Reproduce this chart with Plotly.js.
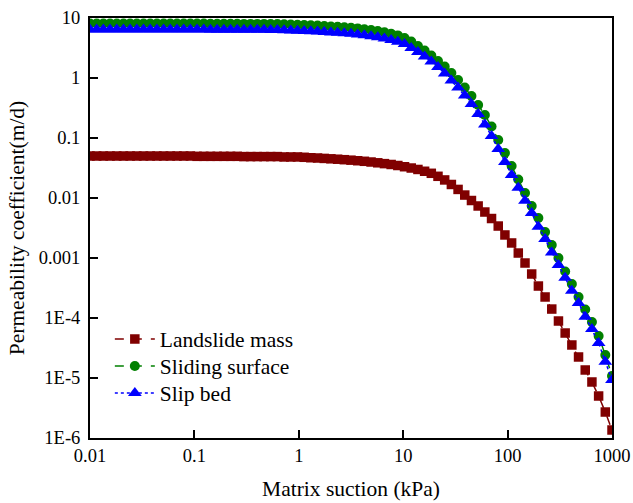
<!DOCTYPE html>
<html>
<head>
<meta charset="utf-8">
<script src="https://cdn.plot.ly/plotly-3.0.1.min.js"></script>
<style>html,body{margin:0;padding:0;background:#fff;}#chart{width:633px;height:503px;}</style>
</head>
<body>
<div id="chart"></div>
<script>
// Matrix suction (kPa)
const suction = [0.01,0.01159,0.01343,0.01557,0.01805,0.02092,0.02424,0.02810,0.03257,0.03775,
0.04375,0.05071,0.05878,0.06813,0.07897,0.09153,0.1061,0.1230,0.1425,0.1652,
0.1915,0.2219,0.2572,0.2981,0.3455,0.4005,0.4642,0.5380,0.6236,0.7228,
0.8377,0.9710,1.125,1.304,1.512,1.752,2.031,2.354,2.729,3.162,
3.665,4.248,4.924,5.707,6.615,7.667,8.886,10.30,11.94,13.84,
16.04,18.59,21.54,24.97,28.94,33.54,38.88,45.06,52.23,60.54,
70.17,81.33,94.27,109.3,126.6,146.8,170.1,197.2,228.6,264.9,
307.0,355.9,412.5,478.1,554.1,642.2,744.4,862.8,1000];

// Permeability coefficient (m/d)
const landslideMass = [0.0501,0.0501,0.0501,0.0501,0.0501,0.0501,0.0501,0.0501,0.0501,0.0501,
0.0501,0.0501,0.0501,0.0501,0.0501,0.0501,0.0495,0.0495,0.0495,0.0495,
0.0495,0.0495,0.0495,0.0490,0.0490,0.0490,0.0490,0.0490,0.0490,0.0483,
0.0483,0.0483,0.0477,0.0469,0.0464,0.0457,0.0450,0.0443,0.0435,0.0427,
0.0418,0.0409,0.0398,0.0386,0.0374,0.0362,0.0348,0.0332,0.0316,0.0299,
0.0279,0.0258,0.0230,0.0200,0.0168,0.0139,0.0112,0.00908,0.00736,0.00584,
0.00455,0.00341,0.00242,0.00178,0.00121,8.25e-4,5.41e-4,3.41e-4,2.24e-4,1.41e-4,
8.91e-5,5.62e-5,3.55e-5,2.24e-5,1.36e-5,8.58e-6,5.01e-6,2.71e-6,1.36e-6];

const slidingSurface = [8.10,8.10,8.10,8.10,8.10,8.10,8.10,8.10,8.10,8.10,
8.10,8.10,8.10,8.10,8.10,8.10,8.10,8.10,8.04,8.04,
8.04,8.04,8.04,7.98,7.98,7.98,7.98,7.91,7.91,7.85,
7.79,7.73,7.64,7.56,7.47,7.36,7.24,7.13,7.03,6.89,
6.71,6.51,6.29,6.05,5.78,5.47,5.13,4.64,4.06,3.41,
2.87,2.37,1.92,1.55,1.21,0.926,0.695,0.501,0.355,0.242,
0.155,0.0926,0.0562,0.0341,0.0203,0.0121,0.00736,0.00464,0.00271,0.00165,
0.001,5.96e-4,3.69e-4,2.24e-4,1.39e-4,8.58e-5,5.01e-5,2.42e-5,1.08e-5];

const slipBed = [6.43,6.43,6.43,6.43,6.43,6.43,6.43,6.43,6.43,6.43,
6.43,6.43,6.43,6.43,6.43,6.43,6.43,6.43,6.38,6.38,
6.38,6.38,6.38,6.34,6.34,6.34,6.34,6.29,6.29,6.24,
6.19,6.14,6.07,6.00,5.93,5.84,5.75,5.67,5.58,5.45,
5.31,5.15,4.97,4.77,4.55,4.30,4.01,3.69,3.16,2.71,
2.28,1.88,1.53,1.19,0.909,0.695,0.511,0.369,0.251,0.168,
0.108,0.0656,0.0398,0.0242,0.0148,0.00902,0.00562,0.00332,0.00207,0.00123,
7.64e-4,4.69e-4,2.85e-4,1.78e-4,1.05e-4,6.56e-5,3.83e-5,1.87e-5,9.26e-6];

const seriesNames = ['Landslide mass','Sliding surface','Slip bed'];
const xTickVals = [0.01,0.1,1,10,100,1000];
const xTickText = ['0.01','0.1','1','10','100','1000'];
const yTickVals = [1e-6,1e-5,1e-4,1e-3,1e-2,1e-1,1,10];
const yTickText = ['1E-6','1E-5','1E-4','0.001','0.01','0.1','1','10'];

const FONT = '"Liberation Serif", "Times New Roman", serif';

const traces = [
  {x: suction, y: landslideMass, name: seriesNames[0], mode: 'lines+markers', type: 'scatter',
   legend: 'legend',
   line: {color: '#800000', width: 1.5, dash: 'dash'},
   marker: {symbol: 'square', size: 9.5, color: '#800000'}},
  {x: suction, y: slidingSurface, name: seriesNames[1], mode: 'lines+markers', type: 'scatter',
   legend: 'legend2',
   line: {color: '#008000', width: 1.5, dash: 'dash'},
   marker: {symbol: 'circle', size: 10, color: '#008000'}},
  {x: suction, y: slipBed, name: seriesNames[2], mode: 'lines+markers', type: 'scatter',
   legend: 'legend3',
   line: {color: '#0000FF', width: 1.5, dash: 'dot'},
   marker: {symbol: 'triangle-up', size: 12, color: '#0000FF'}}
];

const axisCommon = {
  type: 'log', showgrid: false, zeroline: false,
  showline: true, linewidth: 2, linecolor: '#000', mirror: true,
  ticks: 'inside', ticklen: 8, tickwidth: 2, tickcolor: '#000',
  tickfont: {family: FONT, size: 18.5, color: '#000'}
};

function legendAt(yTop) {
  return {
    x: 0.038, y: yTop, xanchor: 'left', yanchor: 'top',
    bgcolor: 'rgba(0,0,0,0)', borderwidth: 0,
    font: {family: FONT, size: 21.5, color: '#000'},
    itemwidth: 40
  };
}

const layout = {
  width: 633, height: 503,
  margin: {l: 90, r: 21, t: 18, b: 65},
  paper_bgcolor: '#fff', plot_bgcolor: '#fff',
  font: {family: FONT, color: '#000'},
  showlegend: true,
  xaxis: Object.assign({}, axisCommon, {
    range: [-2, 3], tickvals: xTickVals, ticktext: xTickText,
    ticklabelstandoff: 0,
    title: {text: 'Matrix suction (kPa)', font: {family: FONT, size: 21.5, color: '#000'}, standoff: 16}
  }),
  yaxis: Object.assign({}, axisCommon, {
    range: [-6, 1], tickvals: yTickVals, ticktext: yTickText,
    ticklabelstandoff: 4,
    title: {text: 'Permeability coefficient(m/d)', font: {family: FONT, size: 21.5, color: '#000'}, standoff: 8}
  }),
  legend: legendAt(0.2845),
  legend2: legendAt(0.2202),
  legend3: legendAt(0.1560)
};

Plotly.newPlot('chart', traces, layout, {staticPlot: true, displayModeBar: false});
</script>
</body>
</html>
